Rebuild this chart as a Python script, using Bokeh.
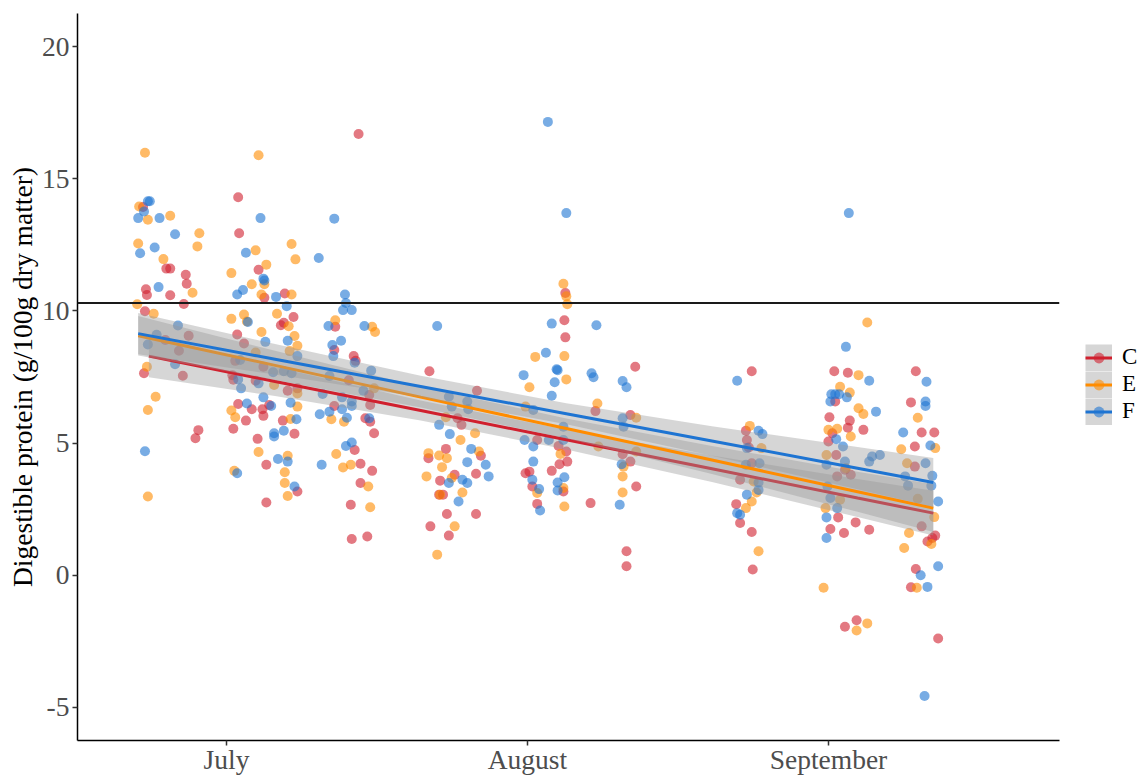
from bokeh.plotting import figure
from bokeh.layouts import row
from bokeh.models import Range1d, FixedTicker, Span, Legend, LegendItem
from bokeh.embed import file_html
from bokeh.resources import INLINE

# ---------------- data ----------------
month_ticks = [0, 31, 62]            # days since 1 July
month_labels = ["July", "August", "September"]
y_ticks = [-5, 0, 5, 10, 15, 20]
y_labels = ["-5", "0", "5", "10", "15", "20"]
threshold = 10.3
groups = ["C", "E", "F"]

c_day = [-8.6, -6.2, -5.8, -4.2, -4.1, -8.3, -8.2, -5.8, -4.4, -8.4, -3.9, -6.3, -4.9, -8.5, -4.5, -2.9, -3.2,
         1.2, 1.3, 3.3, 3.9, 6.0, 6.9, 5.9, 5.6, 1.1, 1.8, 3.8, 0.9, 0.6, 0.7, 3.0, 6.3, 7.3, 1.2, 2.6, 3.7, 3.8, 4.4, 2.0, 5.8, 0.7, 3.2, 7.0, 4.1, 7.3, 4.1,
         13.6, 11.2, 11.1, 13.1, 13.3, 12.6, 14.7, 11.1, 14.8, 14.3, 14.8, 15.2, 13.2, 13.8, 15.0, 13.8, 12.8, 12.9, 14.5,
         20.9, 25.8, 23.8, 24.2, 22.6, 20.8, 26.2, 23.5, 22.0, 25.7, 21.9, 22.3, 22.7, 25.7, 21.0, 22.9,
         34.8, 34.9, 34.9, 32.0, 34.2, 35.0, 35.1, 34.3, 33.5, 30.8, 31.2, 31.5, 34.7, 32.0,
         42.1, 38.0, 41.6, 40.8, 41.6, 42.2, 37.5, 41.2, 41.2,
         54.1, 53.5, 53.6, 53.8, 54.1, 52.9, 52.5, 52.9, 54.1, 54.2,
         62.6, 64.0, 62.7, 62.1, 64.2, 64.0, 65.6, 62.4, 62.0, 62.8, 63.7, 64.3, 62.9, 63.0, 64.8, 62.2, 63.6, 66.2, 63.7, 64.9,
         71.0, 70.5, 71.6, 72.9, 70.9, 70.9, 71.6, 72.2, 72.7, 73.0, 71.0, 70.5, 73.3]
c_val = [13.93, 11.6, 11.6, 11.37, 11.03, 10.82, 10.6, 10.59, 10.26, 9.99, 9.06, 8.9, 8.49, 7.64, 7.55, 5.49, 5.18,
         14.3, 12.94, 11.56, 10.5, 10.66, 9.77, 9.55, 9.46, 9.11, 8.77, 7.89, 8.11, 7.57, 7.4, 7.36, 6.98, 7.07, 6.48, 6.28, 6.28, 6.03, 6.44, 5.85, 5.85, 5.54, 5.16, 5.35, 4.18, 3.17, 2.75,
         16.69, 9.4, 8.52, 8.29, 8.11, 7.38, 6.82, 6.4, 6.44, 5.94, 5.81, 5.37, 4.74, 4.22, 3.95, 3.49, 2.67, 1.37, 1.47,
         7.72, 6.98, 5.94, 5.69, 4.78, 4.43, 4.52, 3.8, 3.58, 3.84, 3.05, 3.05, 2.32, 2.32, 1.85, 1.5,
         9.65, 10.68, 9.0, 5.12, 4.89, 4.68, 4.3, 4.2, 3.95, 3.86, 3.92, 3.36, 3.17, 2.7,
         7.89, 6.21, 6.06, 4.58, 4.3, 3.36, 2.73, 0.91, 0.34,
         7.72, 5.47, 5.12, 4.83, 4.24, 3.61, 2.69, 1.98, 1.64, 0.22,
         7.72, 7.66, 6.57, 5.98, 5.85, 5.58, 5.5, 5.37, 5.06, 4.55, 3.99, 3.8, 3.74, 2.19, 2.0, 1.75, 1.6, 1.72, -1.95, -1.7,
         7.72, 6.54, 5.4, 5.4, 4.87, 4.11, 1.85, 1.28, 1.41, 1.5, 0.24, -0.45, -2.39]

e_day = [-8.4, -9.0, -8.1, -5.8, -2.8, -3.0, -9.1, -6.5, -3.5, -9.2, -7.5, -8.2, -7.3, -8.1, -8.1,
         3.3, 3.0, 6.7, 7.1, 4.1, 0.5, 2.6, 3.9, 3.6, 6.7, 1.8, 0.5, 5.2, 2.1, 3.6, 6.4, 7.0, 7.3, 6.5, 3.0, 4.9, 7.3, 7.3, 0.5, 0.9, 6.6, 3.3, 6.3, 6.0, 6.0, 6.3, 0.8,
         15.0, 15.3, 11.2, 15.2, 10.8, 12.1, 11.3, 12.0, 12.8, 14.6, 14.8,
         22.6, 24.1, 25.6, 26.0, 20.8, 21.9, 22.7, 22.2, 20.6, 23.2, 24.3, 22.0, 23.5, 21.7,
         34.7, 35.0, 35.1, 31.8, 34.8, 35.0, 31.2, 30.8, 34.4, 34.7, 32.0, 34.8,
         38.2, 42.2, 38.3, 42.2, 40.9, 40.8, 40.8,
         53.9, 55.1, 54.3, 54.6, 54.1, 53.5, 54.8,
         66.0, 65.1, 63.2, 64.2, 65.1, 65.6, 62.0, 62.9, 64.3, 61.8, 63.8, 63.2, 61.7, 61.5, 64.9, 66.0,
         71.2, 69.5, 73.0, 70.1, 71.2, 72.9, 70.3, 69.8, 72.6, 71.1]
e_val = [15.98, 13.95, 13.45, 13.6, 12.94, 12.44, 12.55, 11.96, 10.69, 10.25, 9.89, 7.89, 6.75, 6.25, 2.98,
         15.89, 12.29, 12.53, 11.95, 11.75, 11.43, 11.01, 11.01, 10.62, 10.62, 9.86, 9.7, 9.89, 9.6, 9.2, 9.42, 9.05, 8.68, 8.48, 8.43, 7.2, 6.88, 6.38, 6.23, 5.98, 5.91, 4.66, 4.52, 3.9, 3.49, 3.0, 3.95,
         9.4, 9.2, 9.65, 7.07, 5.9, 5.81, 4.59, 4.08, 4.18, 3.36, 2.57,
         5.98, 5.12, 5.37, 4.68, 4.62, 4.53, 4.43, 4.09, 3.74, 3.68, 3.13, 3.05, 1.85, 0.78,
         11.03, 10.55, 10.25, 8.26, 8.29, 7.41, 7.11, 6.38, 4.59, 3.3, 3.11, 2.6,
         6.5, 5.96, 4.87, 4.68, 4.11, 3.74, 3.13,
         5.65, 4.81, 3.55, 3.13, 2.79, 2.54, 0.91,
         9.56, 7.57, 7.13, 6.91, 6.32, 6.1, 5.5, 5.54, 5.25, 4.55, 4.05, 2.86, 2.54, -0.47, -2.09, -1.82,
         5.96, 4.77, 4.81, 4.24, 2.89, 2.2, 1.6, 1.03, 1.18, -0.47]

f_day = [-8.1, -7.9, -8.5, -9.1, -6.9, -5.3, -7.4, -8.9, -7.0, -5.0, -7.2, -8.1, -5.3, -8.4,
         3.5, 2.0, 3.8, 3.9, 1.1, 1.7, 5.1, 6.2, 2.2, 4.0, 6.3, 7.3, 1.4, 4.8, 5.9, 6.7, 1.2, 3.3, 1.5, 3.8, 4.6, 2.1, 6.6, 7.2, 5.9, 4.9, 4.9, 5.3, 6.3, 1.1, 7.0,
         11.1, 9.5, 12.2, 12.3, 12.0, 12.9, 10.5, 14.2, 11.8, 10.9, 11.0, 14.9, 10.6, 13.2, 9.9, 14.1, 11.9, 12.9, 12.9, 9.6, 10.6, 11.9, 12.4, 14.7, 12.3, 12.9, 9.8,
         21.7, 22.9, 23.2, 24.8, 24.9, 21.9, 23.0, 25.2, 24.8, 26.7, 27.0, 24.3, 24.8, 22.9, 23.9,
         33.1, 35.0, 33.5, 32.9, 34.0, 34.1, 30.6, 33.8, 33.5, 31.6, 30.7, 31.6, 33.2, 34.7, 34.7, 31.6, 31.5, 34.8, 34.1, 34.1, 32.2, 32.3,
         38.1, 37.6, 37.8, 40.8, 41.2, 40.8, 40.9, 40.7, 40.5,
         52.6, 54.8, 55.2, 53.6, 54.9, 53.5, 54.8, 54.8, 53.6, 52.6, 52.9,
         64.1, 63.8, 66.2, 62.3, 62.7, 63.1, 62.2, 63.9, 66.9, 62.8, 63.5, 66.5, 67.3, 66.2, 63.7, 61.8, 61.9, 62.2, 62.9, 61.8, 61.8,
         72.1, 72.0, 72.0, 69.7, 72.5, 72.0, 69.9, 70.2, 72.7, 72.6, 73.3, 73.3, 71.5, 72.2, 71.9]
f_val = [14.15, 14.15, 13.76, 13.51, 13.51, 12.9, 12.4, 12.18, 10.9, 9.45, 9.1, 8.73, 7.98, 4.69,
         13.51, 12.2, 11.22, 11.15, 10.62, 10.79, 10.53, 10.18, 9.58, 8.83, 8.87, 8.29, 8.14, 7.68, 7.72, 7.64, 7.41, 7.26, 7.07, 6.73, 6.4, 6.5, 6.53, 5.9, 5.47, 5.37, 5.25, 4.4, 4.3, 3.86, 3.36,
         13.49, 12.0, 10.62, 10.3, 10.03, 10.03, 9.43, 9.43, 8.87, 8.71, 8.29, 7.74, 7.54, 8.04, 6.86, 6.98, 6.73, 6.57, 6.4, 6.09, 6.19, 6.28, 5.96, 5.94, 4.89, 5.02, 4.18,
         9.43, 6.75, 6.38, 6.57, 6.28, 5.69, 5.34, 4.78, 4.28, 4.18, 3.74, 3.61, 3.49, 3.49, 2.79,
         17.15, 13.7, 9.52, 8.42, 7.79, 7.76, 7.57, 7.3, 6.79, 6.25, 5.12, 4.87, 5.12, 5.12, 5.62, 4.3, 3.61, 3.71, 3.51, 3.21, 3.26, 2.45,
         9.46, 7.64, 7.49, 7.35, 7.11, 5.94, 5.62, 4.2, 2.67,
         7.36, 5.47, 5.34, 4.81, 4.24, 4.18, 3.51, 3.23, 3.05, 2.35, 2.29,
         13.7, 8.64, 7.36, 6.85, 6.85, 6.85, 6.57, 6.73, 6.19, 5.15, 4.87, 4.49, 4.55, 4.3, 4.3, 4.18, 3.36, 2.92, 2.54, 2.19, 1.41,
         7.32, 6.57, 6.4, 5.4, 4.91, 4.24, 3.74, 3.39, 3.76, 3.39, 2.79, 0.34, 0.0, -0.44, -4.57]

# fitted trend lines and their confidence half-widths
c_fit_day = [-8.0, 5, 20, 35, 50, 65, 72.8]
c_fit = [8.29, 7.33, 6.23, 5.13, 4.03, 2.92, 2.35]
c_se = [0.8, 0.55, 0.38, 0.37, 0.5, 0.72, 0.85]
e_fit_day = [-9.1, 5, 20, 35, 50, 65, 72.8]
e_fit = [9.06, 7.94, 6.74, 5.55, 4.36, 3.16, 2.54]
e_se = [0.75, 0.55, 0.39, 0.38, 0.53, 0.76, 0.9]
f_fit_day = [-9.1, 5, 20, 35, 50, 65, 72.8]
f_fit = [9.14, 8.17, 7.14, 6.11, 5.08, 4.05, 3.51]
f_se = [0.78, 0.58, 0.41, 0.40, 0.56, 0.80, 0.93]

colors = {"C": "#D0202E", "E": "#FF8C00", "F": "#1E74D2"}
SERIF = "Liberation Serif"
BAND = "#999999"

points = {"C": (c_day, c_val), "E": (e_day, e_val), "F": (f_day, f_val)}
fits = {"C": (c_fit_day, c_fit, c_se), "E": (e_fit_day, e_fit, e_se), "F": (f_fit_day, f_fit, f_se)}

# ---------------- main figure ----------------
p = figure(width=1062, height=777,
           x_range=Range1d(-15.35, 85.8), y_range=Range1d(-6.25, 21.25),
           output_backend="svg", toolbar_location=None,
           min_border_left=77, min_border_right=3, min_border_top=13, min_border_bottom=36)
p.background_fill_color = "white"
p.border_fill_color = "white"
p.outline_line_color = None
p.xgrid.visible = False
p.ygrid.visible = False

for g in groups:
    d, v = points[g]
    p.scatter(d, v, size=10, fill_color=colors[g], fill_alpha=0.6, line_color=None)

for g in groups:
    d, f, s = fits[g]
    lo = [a - b for a, b in zip(f, s)]
    hi = [a + b for a, b in zip(f, s)]
    p.varea(x=d, y1=lo, y2=hi, fill_color=BAND, fill_alpha=0.4)
    p.line(d, f, line_color=colors[g], line_width=3)

p.add_layout(Span(location=threshold, dimension="width", line_color="#1a1a1a", line_width=2))

for ax in (p.xaxis[0], p.yaxis[0]):
    ax.axis_line_color = "black"
    ax.axis_line_width = 1.5
    ax.major_tick_line_color = "#333333"
    ax.major_tick_line_width = 1.5
    ax.major_tick_out = 5
    ax.major_tick_in = 0
    ax.minor_tick_out = 0
    ax.minor_tick_in = 0
    ax.major_label_text_font = SERIF
    ax.major_label_text_font_size = "27.5px"
    ax.major_label_text_color = "#4D4D4D"

p.xaxis[0].ticker = FixedTicker(ticks=month_ticks)
p.xaxis[0].major_label_overrides = {t: l for t, l in zip(month_ticks, month_labels)}
p.xaxis[0].major_label_standoff = -2
p.yaxis[0].ticker = FixedTicker(ticks=y_ticks)
p.yaxis[0].major_label_overrides = {t: l for t, l in zip(y_ticks, y_labels)}
p.yaxis[0].major_label_standoff = 3
p.yaxis[0].axis_label = "Digestible protein (g/100g dry matter)"
p.yaxis[0].axis_label_text_font = SERIF
p.yaxis[0].axis_label_text_font_style = "normal"
p.yaxis[0].axis_label_text_font_size = "27.5px"
p.yaxis[0].axis_label_text_color = "black"
p.yaxis[0].axis_label_standoff = 1

# ---------------- legend panel (same series, drawn off-range so only the keys show) ----------------
pl = figure(width=84, height=777, x_range=Range1d(1000, 1001), y_range=Range1d(1000, 1001),
            output_backend="svg", toolbar_location=None,
            x_axis_location=None, y_axis_location=None,
            min_border_left=0, min_border_right=0, min_border_top=0, min_border_bottom=0)
pl.background_fill_color = "white"
pl.border_fill_color = "white"
pl.outline_line_color = None
pl.xgrid.visible = False
pl.ygrid.visible = False

items = []
for g in groups:
    d, f, s = fits[g]
    pd, pv = points[g]
    key_bg = pl.line(d, f, line_color=BAND, line_alpha=0.4, line_width=27)
    key_ln = pl.line(d, f, line_color=colors[g], line_width=3)
    key_pt = pl.scatter(pd, pv, size=10, fill_color=colors[g], fill_alpha=0.6, line_color=None)
    items.append(LegendItem(label=g, renderers=[key_bg, key_ln, key_pt]))

legend = Legend(items=items, location=(23, 315.5),
                glyph_width=27, glyph_height=27, label_height=27, spacing=0,
                padding=0, margin=0, label_standoff=10,
                label_text_font=SERIF, label_text_font_size="23px", label_text_color="black",
                background_fill_alpha=0, border_line_color=None)
pl.add_layout(legend)

layout = row(p, pl, spacing=0)
open("out.html", "w").write(file_html(layout, INLINE))
